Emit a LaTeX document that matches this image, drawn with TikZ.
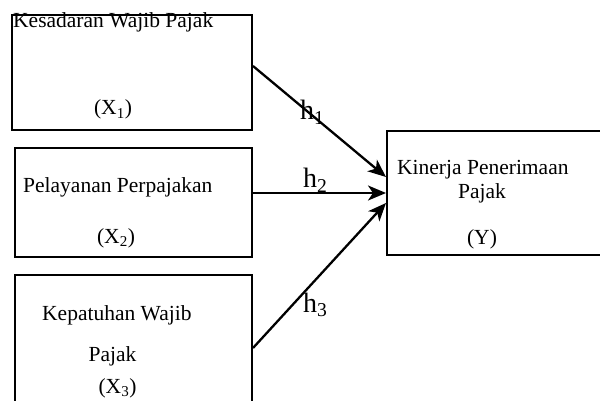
\documentclass[tikz,border=0pt]{standalone}
\usepackage{fontspec}
\setmainfont{Liberation Serif}
\usetikzlibrary{arrows.meta}
\begin{document}
\begin{tikzpicture}[x=1pt,y=-1pt,
  box/.style={draw,line width=2pt,rectangle,inner sep=0pt},
  lbl/.style={inner sep=0pt,font=\fontsize{21.5}{25}\selectfont},
  hlbl/.style={inner sep=0pt,font=\fontsize{28}{31}\selectfont},
  conn/.style={line width=2.3pt,-{Stealth[length=18pt,width=15pt,inset=5pt]}}]
\useasboundingbox (0,0) rectangle (600,401);
\clip (0,0) rectangle (600,401);
\fill[white] (0,0) rectangle (600,401);
% boxes
\node[box,minimum width=240pt,minimum height=115pt] (b1) at (132,72.5) {};
\node[box,minimum width=237pt,minimum height=109pt] (b2) at (133.5,202.5) {};
\node[box,minimum width=237pt,minimum height=160pt] (b3) at (133.5,355) {};
\node[box,minimum width=230pt,minimum height=124pt] (by) at (502,193) {};
% texts
\node[lbl,anchor=base west] (t1) at (13,28) {Kesadaran Wajib Pajak};
\node[lbl,anchor=base] (x1) at (113,115) {(X\textsubscript{1})};
\node[lbl,anchor=base west] (t2) at (23,193) {Pelayanan Perpajakan};
\node[lbl,anchor=base] (x2) at (116,243) {(X\textsubscript{2})};
\node[lbl,anchor=base west] (t3) at (42,320) {Kepatuhan Wajib};
\node[lbl,anchor=base] (t3b) at (112.5,361) {Pajak};
\node[lbl,anchor=base] (x3) at (117.5,393) {(X\textsubscript{3})};
\node[lbl,anchor=base west] (ty) at (397,175) {Kinerja Penerimaan};
\node[lbl,anchor=base] (tyb) at (482,199) {Pajak};
\node[lbl,anchor=base] (xy) at (482,244) {(Y)};
% connector ends
\coordinate (s1) at (b1.east |- 0,66);
\coordinate (s2) at (b2.east |- 0,193);
\coordinate (s3) at (b3.east |- 0,348);
\coordinate (e1) at (by.west |- 0,177);
\coordinate (e2) at (by.west |- 0,193);
\coordinate (e3) at (by.west |- 0,203);
\draw[conn] (s1) -- (e1);
\draw[conn] (s2) -- (e2);
\draw[conn] (s3) -- (e3);
% labels
\node[hlbl,anchor=base west] (h1) at (300,120) {h\textsubscript{1}};
\node[hlbl,anchor=base west] (h2) at (303,188) {h\textsubscript{2}};
\node[hlbl,anchor=base west] (h3) at (303,312) {h\textsubscript{3}};
\end{tikzpicture}
\end{document}
